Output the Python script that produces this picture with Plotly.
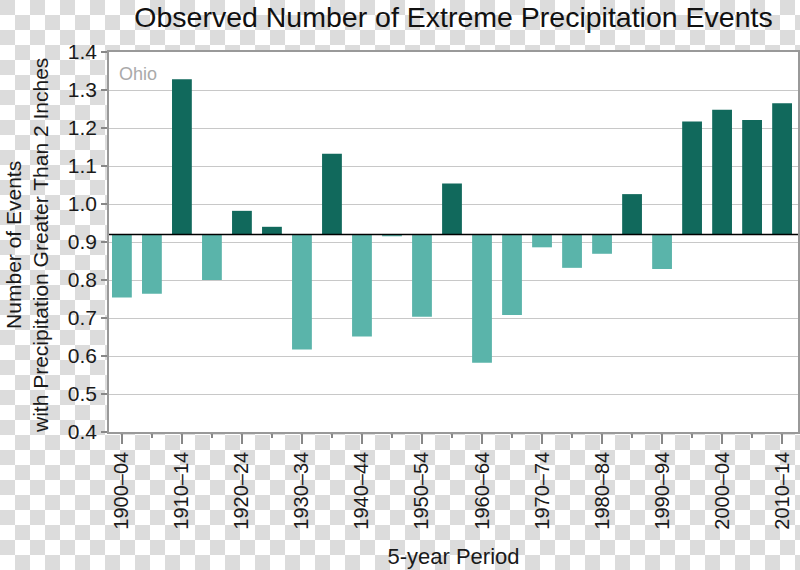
import base64
import plotly.graph_objects as go

periods = ["1900–04", "1905–09", "1910–14", "1915–19", "1920–24", "1925–29",
           "1930–34", "1935–39", "1940–44", "1945–49", "1950–54", "1955–59",
           "1960–64", "1965–69", "1970–74", "1975–79", "1980–84", "1985–89",
           "1990–94", "1995–99", "2000–04", "2005–09", "2010–14"]
events = [0.754, 0.764, 1.328, 0.800, 0.982, 0.940,
          0.617, 1.132, 0.651, 0.915, 0.703, 1.054,
          0.582, 0.708, 0.886, 0.832, 0.869, 1.026,
          0.829, 1.217, 1.248, 1.221, 1.265]
baseline = 0.92
y_ticks = [0.4, 0.5, 0.6, 0.7, 0.8, 0.9, 1.0, 1.1, 1.2, 1.3, 1.4]

DARK = "#11695c"
LIGHT = "#5ab4aa"
FONT = "Liberation Sans, Arial, sans-serif"

W, H = 800, 570
ML, MR, MT, MB = 109, 2, 52, 138
PW, PH = W - ML - MR, H - MT - MB

svg = (f'<svg xmlns="http://www.w3.org/2000/svg" width="{W}" height="{H}" viewBox="0 0 {W} {H}">'
       '<defs><pattern id="c" width="30" height="30" patternUnits="userSpaceOnUse">'
       '<rect width="30" height="30" fill="#ffffff"/>'
       '<rect x="0" y="0" width="15" height="15" fill="#dcdcdc"/>'
       '<rect x="15" y="15" width="15" height="15" fill="#dcdcdc"/>'
       '</pattern></defs>'
       f'<rect width="{W}" height="{H}" fill="url(#c)"/></svg>')
src = "data:image/svg+xml;base64," + base64.b64encode(svg.encode()).decode()

xpos = list(range(len(periods)))
colors = [DARK if v >= baseline else LIGHT for v in events]

fig = go.Figure(go.Bar(
    x=xpos, y=[v - baseline for v in events], base=baseline,
    marker=dict(color=colors, line=dict(width=0)), width=0.66,
    customdata=periods, hovertemplate="%{customdata}: %{y}<extra></extra>",
))

fig.update_layout(
    width=W, height=H,
    margin=dict(l=ML, r=MR, t=MT, b=MB, autoexpand=False),
    paper_bgcolor="white", plot_bgcolor="white",
    showlegend=False,
    font=dict(family=FONT, color="#1a1a1a", size=20),
    title=dict(text="Observed Number of Extreme Precipitation Events",
               x=(ML + PW / 2) / W, xanchor="center", y=1 - 17 / H, yanchor="middle",
               font=dict(size=28.5, color="#111111"), automargin=False),
    images=[dict(source=src, xref="paper", yref="paper",
                 x=-ML / PW, y=1 + MT / PH, sizex=W / PW, sizey=H / PH,
                 xanchor="left", yanchor="top", sizing="stretch", layer="below")],
    shapes=[
        dict(type="rect", xref="paper", yref="paper", x0=0, x1=1, y0=0, y1=1,
             fillcolor="white", line=dict(width=0), layer="below"),
        dict(type="line", xref="paper", yref="y", x0=0, x1=1, y0=baseline, y1=baseline,
             line=dict(color="black", width=1.5), layer="above"),
    ],
    annotations=[
        dict(text="Ohio", xref="paper", yref="paper", x=0, y=1, xshift=8, yshift=-10,
             xanchor="left", yanchor="top", showarrow=False,
             font=dict(size=18, color="#aaaaaa")),
        dict(text="Number of Events<br>with Precipitation Greater Than 2 Inches",
             xref="paper", yref="paper", x=0, y=0.5, xshift=-(ML - 27), yshift=-4,
             xanchor="center", yanchor="middle", textangle=-90, showarrow=False,
             font=dict(size=21, color="#1a1a1a")),
    ],
)

fig.update_xaxes(
    range=[-0.43, 22.53], automargin=False,
    tickvals=xpos[::2], ticktext=periods[::2],
    tickangle=-90, ticks="outside", ticklen=10, tickcolor="#888888", tickwidth=1.5,
    minor=dict(tickvals=xpos, ticks="outside", ticklen=4, tickcolor="#888888", tickwidth=1.5,
               showgrid=False),
    showline=True, linecolor="#999999", linewidth=1.5, mirror=True,
    showgrid=False, zeroline=False, tickfont=dict(size=20),
    title=dict(text="5-year Period", font=dict(size=22), standoff=20),
)
fig.update_yaxes(
    range=[0.4, 1.4], tickvals=y_ticks, tickformat=".1f", automargin=False,
    ticks="outside", ticklen=6, tickcolor="#888888", tickwidth=1.5,
    showline=True, linecolor="#999999", linewidth=1.5, mirror=True,
    showgrid=True, gridcolor="#c8c8c8", gridwidth=1, zeroline=False,
    tickfont=dict(size=21),
)

fig.write_html("out.html", config={"displayModeBar": False},
               post_script="document.body.style.margin='0px';document.body.style.padding='0px';")
